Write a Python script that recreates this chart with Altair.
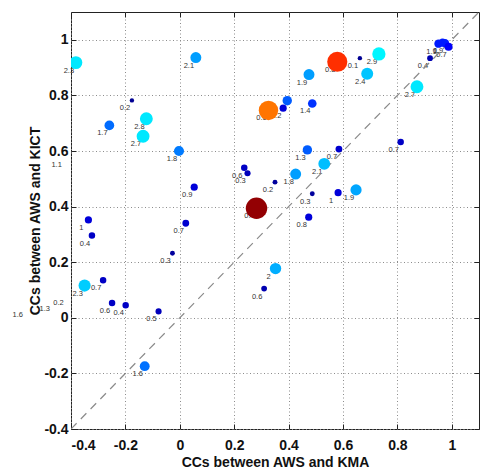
import altair as alt
import pandas as pd

# CC between AWS and KMA (x) / AWS and KICT (y)
kma = [-0.382, 0.059, -0.176, -0.123, -0.259, -0.135, -0.003, -0.427,
       0.579, 0.662, 0.732, 0.689, 0.475, 0.326, 0.380, 0.395, 0.487, 0.872, 0.920,
       0.951, 0.966, 0.975, 0.988, 0.812, 0.469, 0.585, 0.531, 0.426, 0.237, 0.249,
       0.350, 0.487, 0.582, 0.648, 0.282, 0.474, 0.352, 0.310,
       0.053, -0.336, -0.323, 0.022, -0.027, -0.350, -0.282, -0.249, -0.199, -0.078,
       -0.129, -0.570, -0.471, -0.420]
kict = [0.918, 0.936, 0.782, 0.716, 0.692, 0.653, 0.600, 0.579,
        0.921, 0.934, 0.949, 0.878, 0.875, 0.746, 0.754, 0.781, 0.771, 0.831, 0.934,
        0.986, 0.990, 0.988, 0.975, 0.632, 0.604, 0.607, 0.554, 0.517, 0.540, 0.520,
        0.488, 0.446, 0.450, 0.460, 0.394, 0.362, 0.177, 0.105,
        0.470, 0.352, 0.296, 0.340, 0.232, 0.116, 0.135, 0.053, 0.045, 0.023,
        -0.174, 0.039, 0.060, 0.082]
labels = ["2.3", "2.1", "0.2", "2.8", "1.7", "2.7", "1.8", "1.1",
          "0.8", "0.1", "2.9", "2.4", "1.9", "0.6", "1.2", "", "1.4", "2.7", "0.4",
          "1.1", "1", "0.9", "0.7", "0.7", "1.3", "0.7", "2.1", "1.8", "0.6", "0.3",
          "0.2", "0.3", "1", "1.9", "0.4", "0.8", "2", "0.6",
          "0.9", "1", "0.4", "0.7", "0.3", "2.3", "0.7", "0.6", "0.4", "0.5",
          "1.6", "1.6", "1.3", "0.2"]
# third variable driving marker colour (jet colormap) and size
mag = [0.34, 0.24, 0.02, 0.34, 0.185, 0.34, 0.20, 0.15,
       0.86, 0.02, 0.36, 0.29, 0.24, 0.80, 0.09, 0.17, 0.14, 0.34, 0.05,
       0.13, 0.13, 0.13, 0.12, 0.07, 0.17, 0.08, 0.28, 0.24, 0.07, 0.06,
       0.03, 0.03, 0.09, 0.25, 0.98, 0.09, 0.26, 0.05,
       0.09, 0.09, 0.07, 0.08, 0.03, 0.30, 0.07, 0.07, 0.07, 0.06,
       0.19, 0.15, 0.15, 0.03]

ticks = [-0.4, -0.2, 0, 0.2, 0.4, 0.6, 0.8, 1]
diag = [-0.4, 1.1]

df = pd.DataFrame({"kma": kma, "kict": kict, "label": labels, "mag": mag})
ddf = pd.DataFrame({"a": diag, "b": diag})

FONT = "Liberation Sans"
xs = alt.Scale(domain=[-0.4, 1.1], nice=False, zero=False)
ys = alt.Scale(domain=[-0.4, 1.1], nice=False, zero=False)

common = dict(values=ticks, domain=False, offset=-5, tickSize=5, tickColor="#222",
              tickWidth=1, labelFont=FONT, labelFontSize=14, labelFontWeight="bold",
              labelColor="#111", labelExpr="toString(datum.value)",
              titleFont=FONT, titleFontSize=14, titleFontWeight="bold", titleColor="#111",
              grid=True, gridDash=[1, 2.5], gridColor="#8c8c8c", gridWidth=1)

xaxis = alt.Axis(title="CCs between AWS and KMA", orient="bottom", labelPadding=9,
                 titlePadding=3, **common)
yaxis = alt.Axis(title="CCs between AWS and KICT", orient="left", labelPadding=3,
                 titlePadding=1, **common)
mirror = dict(values=ticks, domain=False, offset=-5, tickSize=5, tickColor="#222",
              tickWidth=1, labels=False, title=None, grid=False)
xaxis2 = alt.Axis(orient="top", **mirror)
yaxis2 = alt.Axis(orient="right", **mirror)

jet = alt.Scale(domain=[0, 0.125, 0.375, 0.625, 0.875, 1],
                range=["#000080", "#0000ff", "#00ffff", "#ffff00", "#ff0000", "#800000"])
sz = alt.Scale(domain=[0, 1], range=[10, 470])

base = alt.Chart(df)

text = base.mark_text(align="center", baseline="middle", dx=-7, dy=8, fontSize=7.5,
                      font=FONT, color="#333").encode(
    x=alt.X("kma:Q", scale=xs, axis=xaxis),
    y=alt.Y("kict:Q", scale=ys, axis=yaxis),
    text="label:N",
)

line = alt.Chart(ddf).mark_line(color="#8a8a8a", strokeDash=[8, 6], strokeWidth=1.2,
                                clip=True).encode(
    x=alt.X("a:Q", scale=xs, axis=xaxis2),
    y=alt.Y("b:Q", scale=ys, axis=yaxis2),
)

pts = base.mark_circle(opacity=1, clip=True).encode(
    x=alt.X("kma:Q", scale=xs, axis=None),
    y=alt.Y("kict:Q", scale=ys, axis=None),
    color=alt.Color("mag:Q", scale=jet, legend=None),
    size=alt.Size("mag:Q", scale=sz, legend=None),
)

chart = alt.layer(text, line, pts).resolve_axis(x="independent", y="independent").properties(
    width=408, height=417,
    autosize=alt.AutoSizeParams(type="none"),
    padding={"left": 63, "top": 4, "right": 12, "bottom": 43},
).configure_view(stroke="#222", strokeWidth=1)

chart.save("out.html", embed_options={"renderer": "svg", "actions": False})
